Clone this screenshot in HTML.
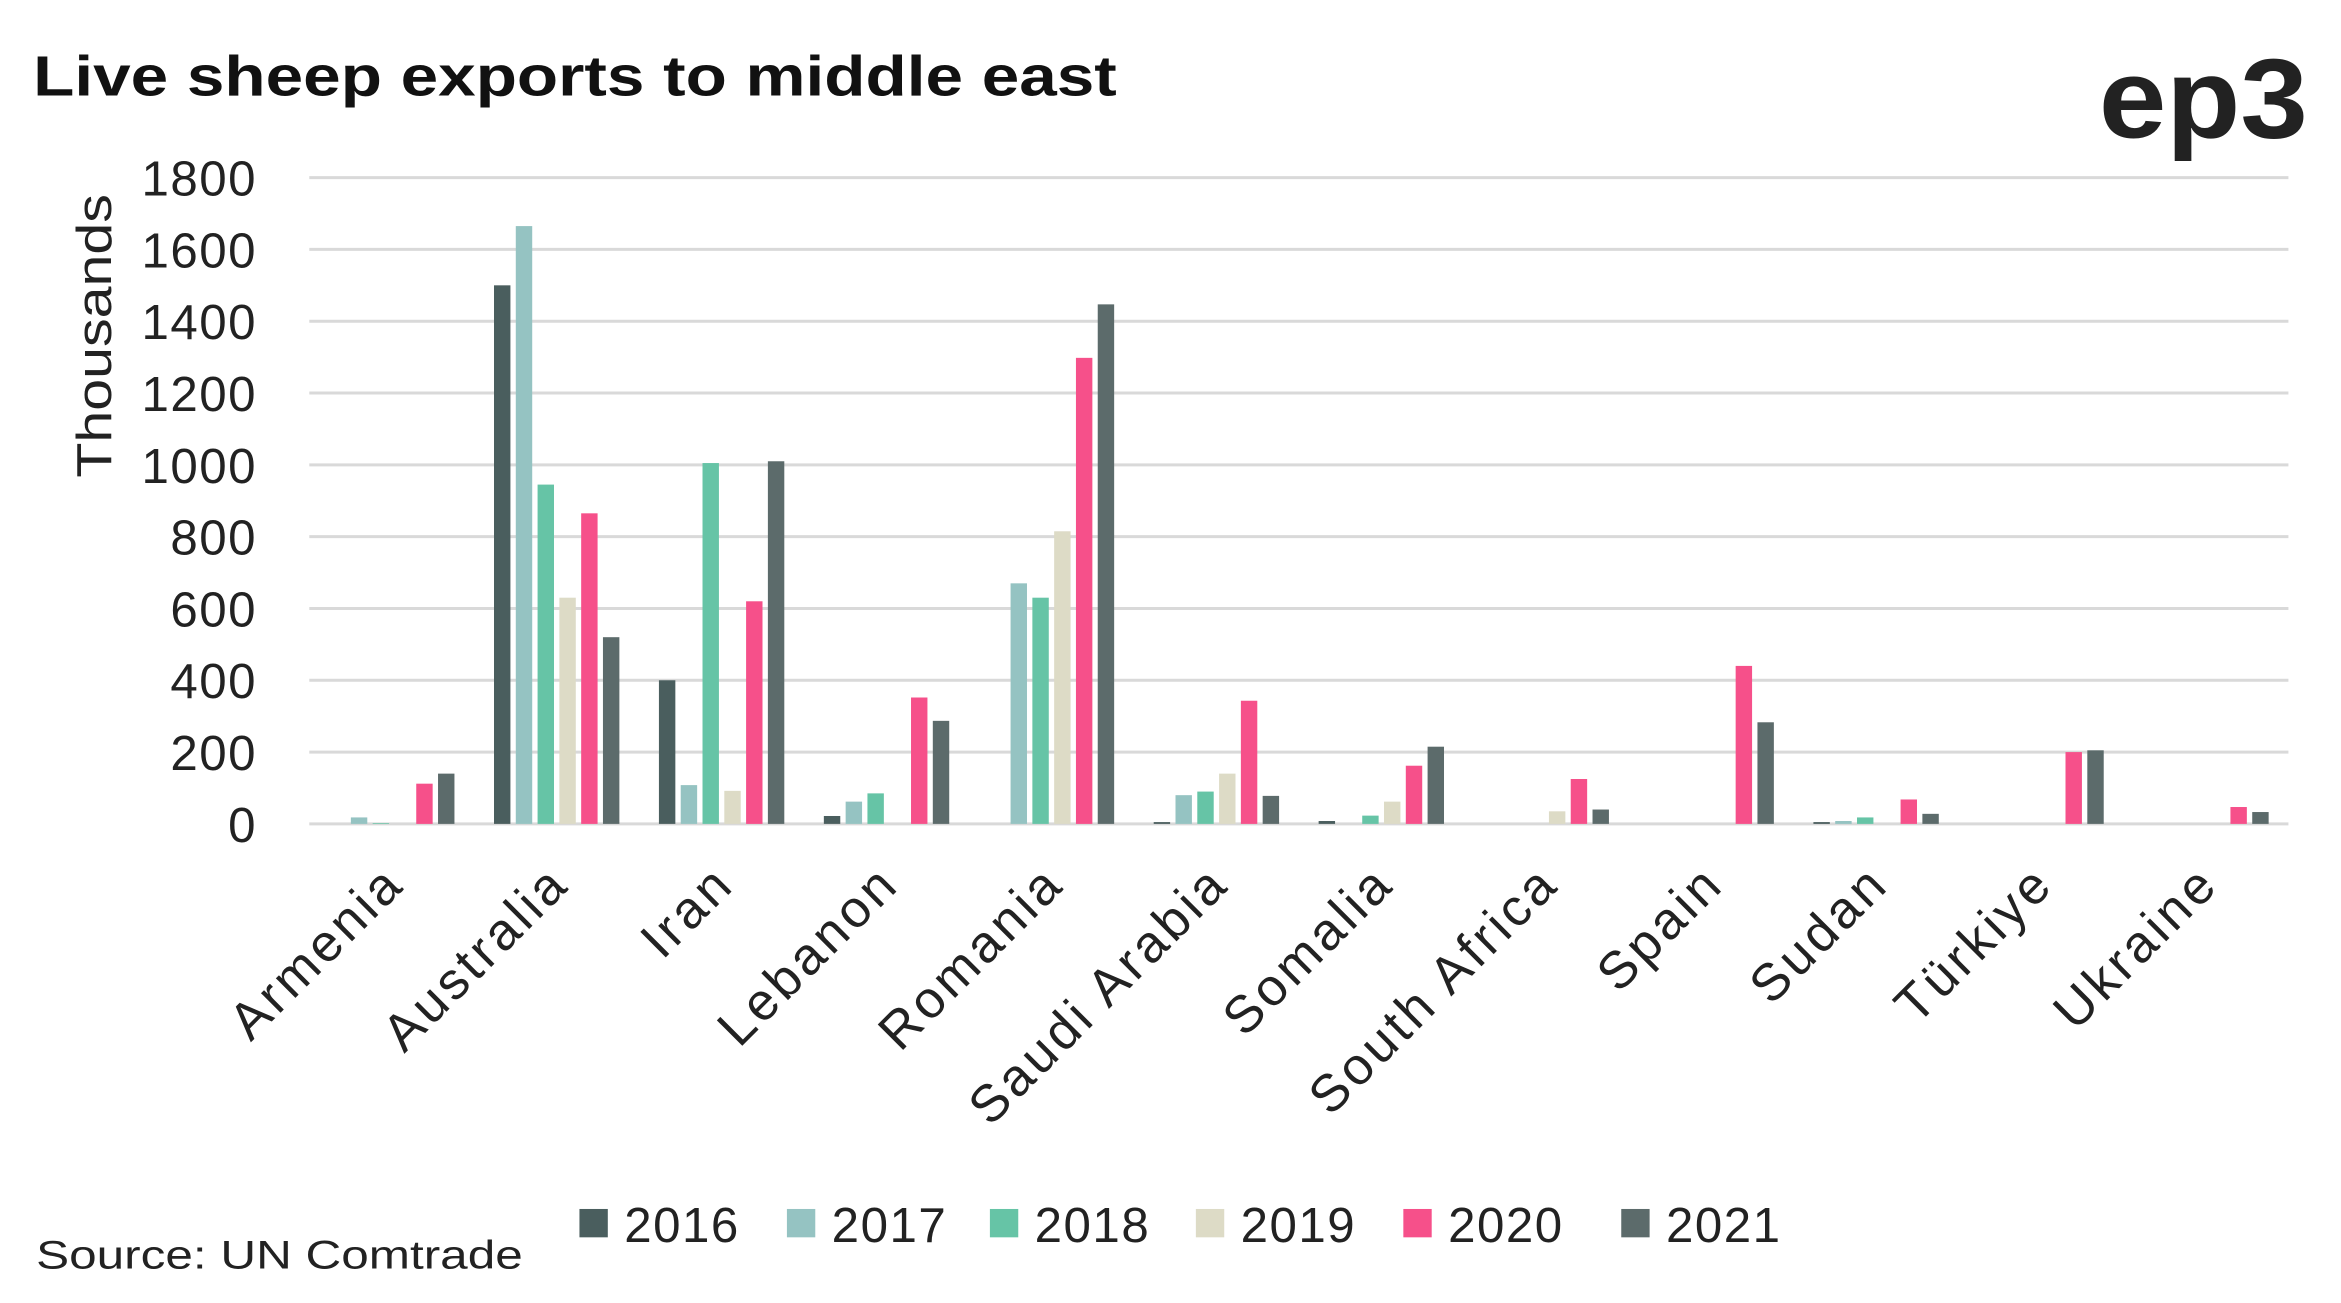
<!DOCTYPE html>
<html><head><meta charset="utf-8"><style>
html,body{margin:0;padding:0;background:#fff;}
svg{display:block;font-family:"Liberation Sans",sans-serif;}
</style></head><body>
<svg id="c" width="2341" height="1303" viewBox="0 0 1568 873" xmlns="http://www.w3.org/2000/svg">
<rect width="1568" height="873" fill="#fff"/>
<text x="22" y="64" font-size="38" font-weight="bold" fill="#111" textLength="726" lengthAdjust="spacingAndGlyphs">Live sheep exports to middle east</text>
<text x="1546" y="92" font-size="76" font-weight="bold" fill="#222" text-anchor="end" textLength="140" lengthAdjust="spacingAndGlyphs">ep3</text>
<text transform="translate(74,225) rotate(-90)" font-size="33" fill="#222" text-anchor="middle" textLength="190" lengthAdjust="spacingAndGlyphs">Thousands</text>
<g id="g"></g>
<text x="24" y="850" font-size="27" fill="#222" textLength="326" lengthAdjust="spacingAndGlyphs">Source: UN Comtrade</text>
</svg>
<script>
const g=document.getElementById('g');let h='';
const y0=552,sc=433/1800,x0=207,cw=110.5;
for(let v=0;v<=1800;v+=200){const y=y0-v*sc;
h+=`<line x1="${x0}" x2="1533" y1="${y}" y2="${y}" stroke="#d9d9d9" stroke-width="2"/>`;
h+=`<text x="172" y="${y+12}" font-size="33" fill="#222" text-anchor="end" letter-spacing="1">${v}</text>`;}
const cols=['#4a5e5e','#95c3c2','#66c4a6','#dddbc6','#f6508a','#5c6b6b'];
const d=[['Armenia',[0,18,2,0,112,140]],['Australia',[1500,1665,945,630,865,520]],['Iran',[400,108,1005,92,620,1010]],['Lebanon',[22,62,85,0,352,287]],['Romania',[0,670,630,815,1298,1447]],['Saudi Arabia',[5,80,90,140,343,78]],['Somalia',[8,0,23,62,162,215]],['South Africa',[0,0,0,35,125,40]],['Spain',[0,0,0,0,440,283]],['Sudan',[5,8,18,0,68,28]],['Türkiye',[0,0,0,0,200,205]],['Ukraine',[0,0,0,0,47,33]]];
d.forEach((c,i)=>{const cx=x0+cw*(i+0.5);
c[1].forEach((v,j)=>{if(v<=0)return;const bh=v*sc;const bx=cx+(j-2.5)*14.6-5.5;
h+=`<rect x="${bx}" y="${y0-bh}" width="11" height="${bh}" fill="${cols[j]}"/>`;});
h+=`<text transform="translate(${cx+10},${594}) rotate(-45)" font-size="35" fill="#222" text-anchor="end" letter-spacing="2.5">${c[0]}</text>`;});
const yrs=[2016,2017,2018,2019,2020,2021],lx=[388,527,663,801,940,1086];
yrs.forEach((y,j)=>{h+=`<rect x="${lx[j]}" y="810" width="19" height="19" fill="${cols[j]}"/><text x="${lx[j]+30}" y="832" font-size="33" fill="#222" letter-spacing="1">${y}</text>`;});
g.innerHTML=h;
</script>
</body></html>
